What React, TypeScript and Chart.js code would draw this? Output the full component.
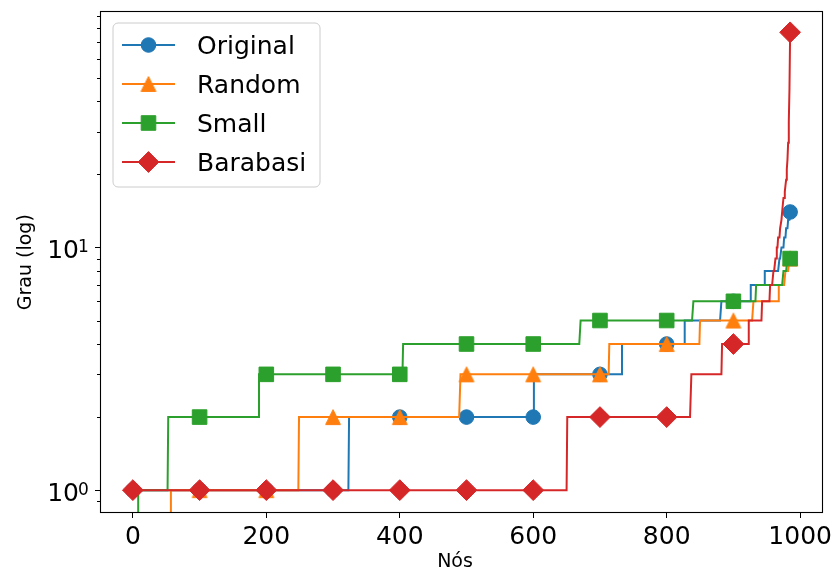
import React, { useEffect, useRef } from 'react';
import { Chart, registerables } from 'chart.js';

Chart.register(...registerables);

// ---- data (sorted node degrees, run-length encoded: first index of each run and its degree) ----
const LAST_INDEX = 985;
const MARKER_EVERY = 100;

const originalStarts = [0, 324, 601, 733, 827, 882, 926, 947, 969, 972, 976, 979, 982, 985];
const originalDegrees = [1, 2, 3, 4, 5, 6, 7, 8, 9, 10, 11, 12, 13, 14];

const randomStarts = [0, 57, 249, 491, 714, 850, 930, 968, 978, 984];
const randomDegrees = [0, 1, 2, 3, 4, 5, 6, 7, 8, 9];

const smallStarts = [0, 8, 53, 189, 405, 671, 840, 934, 975, 981];
const smallDegrees = [0, 1, 2, 3, 4, 5, 6, 7, 8, 9];

const barabasiStarts = [0, 651, 837, 883, 923, 943, 955, 960, 963, 965, 967, 970, 972, 973, 975, 977, 978, 979, 980, 981, 982, 983, 984, 985];
const barabasiDegrees = [1, 2, 3, 4, 5, 6, 7, 8, 9, 10, 11, 12, 13, 14, 16, 17, 18, 19, 21, 23, 27, 33, 45, 77];

const seriesNames = ['Original', 'Random', 'Small', 'Barabasi'];
const seriesColors = ['#1f77b4', '#ff7f0e', '#2ca02c', '#d62728'];

const xTickValues = [0, 200, 400, 600, 800, 1000];
const yMajorTicks = [1, 10];
const yMajorBase = '10';
const yMajorExponents = ['0', '1'];
const yMinorTicks = [0.9, 2, 3, 4, 5, 6, 7, 8, 9, 20, 30, 40, 50, 60, 70, 80, 90];
const xTitle = 'Nós';
const yTitle = 'Grau (log)';

const X_MIN = -49.25;
const X_MAX = 1034.25;
const Y_MIN = 0.805;
const Y_MAX = 93.9;

// a degree of 0 cannot be shown on a log axis; like matplotlib it is clipped far below the axes
const ZERO_ON_LOG = 1e-4;

const FONT = 'DejaVu Sans';

const CIRCLE_R = 7.3;
const SQUARE_R = 10.3;
const DIAMOND_R = 10.4;
const TRI_HALF = 7.4;

function expandRuns(starts: number[], degrees: number[]) {
  const pts: { x: number; y: number }[] = [];
  let run = 0;
  for (let i = 0; i <= LAST_INDEX; i++) {
    while (run + 1 < starts.length && starts[run + 1] <= i) run++;
    const d = degrees[run];
    pts.push({ x: i, y: d === 0 ? ZERO_ON_LOG : d });
  }
  return pts;
}

function makeTriangleCanvas(color: string) {
  const c = document.createElement('canvas');
  const s = 18;
  c.width = s;
  c.height = s;
  const g = c.getContext('2d')!;
  g.fillStyle = color;
  g.strokeStyle = color;
  g.lineWidth = 1;
  g.beginPath();
  g.moveTo(s / 2, s / 2 - TRI_HALF);
  g.lineTo(s / 2 + TRI_HALF, s / 2 + TRI_HALF);
  g.lineTo(s / 2 - TRI_HALF, s / 2 + TRI_HALF);
  g.closePath();
  g.fill();
  g.stroke();
  return c;
}

function drawMarker(ctx: CanvasRenderingContext2D, kind: string, x: number, y: number, color: string, tri: HTMLCanvasElement) {
  ctx.save();
  ctx.fillStyle = color;
  ctx.strokeStyle = color;
  ctx.lineWidth = 1;
  if (kind === 'triangle') {
    ctx.drawImage(tri, x - tri.width / 2, y - tri.height / 2);
    ctx.restore();
    return;
  }
  ctx.beginPath();
  if (kind === 'circle') {
    ctx.arc(x, y, CIRCLE_R, 0, Math.PI * 2);
  } else if (kind === 'rect') {
    const h = Math.SQRT1_2 * SQUARE_R;
    ctx.rect(x - h, y - h, 2 * h, 2 * h);
  } else {
    ctx.moveTo(x - DIAMOND_R, y);
    ctx.lineTo(x, y - DIAMOND_R);
    ctx.lineTo(x + DIAMOND_R, y);
    ctx.lineTo(x, y + DIAMOND_R);
    ctx.closePath();
  }
  ctx.fill();
  ctx.stroke();
  ctx.restore();
}

export default function App() {
  const ref = useRef<HTMLCanvasElement | null>(null);

  useEffect(() => {
    const canvas = ref.current;
    if (!canvas) return;

    const tri = makeTriangleCanvas(seriesColors[1]);
    const styles: any[] = ['circle', tri, 'rect', 'rectRot'];
    const radii = [CIRCLE_R, 9, SQUARE_R, DIAMOND_R];
    const kinds = ['circle', 'triangle', 'rect', 'diamond'];

    const runs = [
      [originalStarts, originalDegrees],
      [randomStarts, randomDegrees],
      [smallStarts, smallDegrees],
      [barabasiStarts, barabasiDegrees],
    ];

    const datasets = runs.map(([s, d], k) => ({
      label: seriesNames[k],
      data: expandRuns(s, d),
      borderColor: seriesColors[k],
      backgroundColor: seriesColors[k],
      borderWidth: 2,
      pointStyle: styles[k],
      pointRadius: (c: any) => (c.dataIndex % MARKER_EVERY === 0 || c.dataIndex === LAST_INDEX ? radii[k] : 0),
      pointBackgroundColor: seriesColors[k],
      pointBorderColor: seriesColors[k],
      pointBorderWidth: 1,
      fill: false,
      tension: 0,
      clip: 0,
      order: 4 - k,
    }));

    const framePlugin = {
      id: 'frame',
      afterDatasetsDraw(chart: any) {
        const { ctx, chartArea: a } = chart;
        const y = chart.scales.y;
        ctx.save();
        ctx.strokeStyle = '#000';
        ctx.lineWidth = 1;
        ctx.beginPath();
        for (const v of yMinorTicks) {
          const py = Math.round(y.getPixelForValue(v)) + 0.5;
          ctx.moveTo(a.left, py);
          ctx.lineTo(a.left - 3, py);
        }
        ctx.stroke();
        ctx.lineWidth = 1.1;
        ctx.strokeRect(Math.round(a.left) + 0.5, Math.round(a.top) + 0.5, Math.round(a.right - a.left) - 1, Math.round(a.bottom - a.top) - 1);

        // y major tick labels as 10 with a superscript exponent (mathtext style)
        ctx.fillStyle = '#000';
        ctx.textBaseline = 'alphabetic';
        yMajorTicks.forEach((v, i) => {
          const py = y.getPixelForValue(v);
          ctx.font = `25px "${FONT}"`;
          ctx.textAlign = 'right';
          ctx.fillText(yMajorBase, a.left - 21, py + 11);
          ctx.font = `17px "${FONT}"`;
          ctx.textAlign = 'left';
          ctx.fillText(yMajorExponents[i], a.left - 22, py + 4.5);
        });

        // x axis title
        ctx.font = `19px "${FONT}"`;
        ctx.textAlign = 'center';
        ctx.fillText(xTitle, 455, 567);
        ctx.restore();
      },
    };

    const legendPlugin = {
      id: 'mplLegend',
      afterDraw(chart: any) {
        const ctx: CanvasRenderingContext2D = chart.ctx;
        const left = 113, top = 23, right = 320, bottom = 187, r = 5;
        ctx.save();
        ctx.beginPath();
        ctx.moveTo(left + r, top);
        ctx.arcTo(right, top, right, bottom, r);
        ctx.arcTo(right, bottom, left, bottom, r);
        ctx.arcTo(left, bottom, left, top, r);
        ctx.arcTo(left, top, right, top, r);
        ctx.closePath();
        ctx.fillStyle = 'rgba(255,255,255,0.8)';
        ctx.fill();
        ctx.strokeStyle = '#cccccc';
        ctx.lineWidth = 1;
        ctx.stroke();
        const rows = [45, 84, 123, 162];
        ctx.font = `25px "${FONT}"`;
        ctx.textBaseline = 'alphabetic';
        ctx.textAlign = 'left';
        rows.forEach((ry, k) => {
          ctx.strokeStyle = seriesColors[k];
          ctx.lineWidth = 2;
          ctx.beginPath();
          ctx.moveTo(122, ry);
          ctx.lineTo(175, ry);
          ctx.stroke();
          drawMarker(ctx, kinds[k], 148.5, ry, seriesColors[k], tri);
          ctx.fillStyle = '#000';
          ctx.fillText(seriesNames[k], 197, ry + 9);
        });
        ctx.restore();
      },
    };

    const zeroPad = (s: any) => {
      s.paddingTop = 0;
      s.paddingBottom = 0;
      s.paddingLeft = 0;
      s.paddingRight = 0;
    };

    const chart = new Chart(canvas, {
      type: 'line',
      data: { datasets: datasets as any },
      options: {
        animation: false,
        responsive: false,
        events: [],
        layout: { padding: { left: 0, right: 12, top: 10, bottom: 0 } },
        plugins: { legend: { display: false }, tooltip: { enabled: false } },
        scales: {
          x: {
            type: 'linear',
            min: X_MIN,
            max: X_MAX,
            afterBuildTicks: (s: any) => {
              s.ticks = xTickValues.map((v) => ({ value: v }));
            },
            afterFit: (s: any) => {
              s.height = 61;
              zeroPad(s);
            },
            grid: { display: true, drawOnChartArea: false, drawTicks: true, tickLength: 5, tickColor: '#000', tickWidth: 1 },
            border: { display: false },
            ticks: {
              autoSkip: false,
              maxRotation: 0,
              padding: 4,
              color: '#000',
              font: { family: FONT, size: 25 },
              callback: (v: any) => String(v),
            },
            title: { display: false },
          },
          y: {
            type: 'logarithmic',
            min: Y_MIN,
            max: Y_MAX,
            afterBuildTicks: (s: any) => {
              s.ticks = yMajorTicks.map((v) => ({ value: v }));
            },
            afterFit: (s: any) => {
              s.width = 100;
              zeroPad(s);
            },
            grid: { display: true, drawOnChartArea: false, drawTicks: true, tickLength: 5, tickColor: '#000', tickWidth: 1 },
            border: { display: false },
            ticks: {
              display: false,
              autoSkip: false,
            },
            title: { display: true, text: yTitle, color: '#000', font: { family: FONT, size: 19 }, padding: { top: 15, bottom: 0 } },
          },
        },
      },
      plugins: [framePlugin, legendPlugin],
    });

    return () => chart.destroy();
  }, []);

  return (
    <div style={{ position: 'fixed', left: 0, top: 0, width: 835, height: 574, background: '#fff' }}>
      <canvas ref={ref} width={835} height={574} />
    </div>
  );
}
